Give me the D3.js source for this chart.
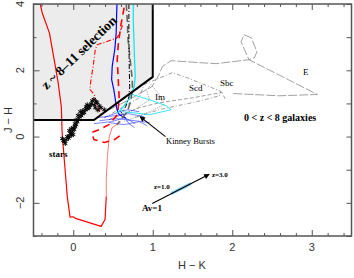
<!DOCTYPE html>
<html><head><meta charset="utf-8">
<script src="https://cdn.jsdelivr.net/npm/d3@7"></script>
<style>body{margin:0;background:#fff}svg{display:block}</style>
</head><body><svg id="chart" width="354" height="278"></svg>
<script>
// H-K vs J-H
var selBox = [[-0.5,4],[1.0,4],[1.0,1.8],[0.26,0.5],[-0.5,0.5]];
var selEdge = [[1.0,4],[1.0,1.8],[0.26,0.5],[-0.5,0.5]];

var redSolid = [[-0.415,4.0],[-0.39,3.73],[-0.30,3.13],[-0.24,2.32],[-0.19,1.63],[-0.15,0.90],[-0.14,0.12],[-0.11,-0.78],[-0.075,-1.81],[-0.04,-2.43],[0.0,-2.42],[0.03,-2.47],[0.35,-2.71],[0.40,-2.50],[0.415,-1.81]];
var redThin = [[0.415,-1.81],[0.415,-1.30],[0.43,-0.60],[0.453,0],[0.49,0.27],[0.60,0.45]];
var redDash = [[0.64,3.89],[0.60,3.37],[0.566,2.77],[0.553,2.32],[0.566,1.72],[0.579,1.11],[0.553,0.66],[0.45,0.36],[0.33,0.21],[0.23,0.12],[0.26,-0.09],[0.39,-0.18],[0.52,-0.09],[0.60,0.05]];
var redDashDot = [[0.62,3.35],[0.553,2.98],[0.415,2.86],[0.30,2.77],[0.277,2.62],[0.25,2.11],[0.223,1.72],[0.21,1.42],[0.264,1.27],[0.30,0.95],[0.36,0.6]];
var blueSolid = [[0.55,4.0],[0.545,3.62],[0.54,3.13],[0.522,2.62],[0.49,2.12],[0.483,1.72],[0.51,1.42],[0.53,1.11],[0.55,0.81],[0.58,0.66],[0.66,0.55]];
var cyanSolid = [[0.755,4.0],[0.755,3.5],[0.763,2.92],[0.771,2.32],[0.78,1.81],[0.767,1.51],[0.738,1.33],[0.68,1.05],[0.60,0.81],[0.55,0.7]];
var cyanLoop = [[0.74,1.27],[0.96,1.11],[1.17,0.93],[1.23,0.81],[0.96,0.66],[0.79,0.71],[0.62,0.75]];
var blackDash = [[0.667,4.0],[0.68,3.5],[0.69,2.9],[0.717,2.3],[0.742,1.72],[0.745,1.42],[0.72,1.05],[0.68,0.75],[0.55,0.36]];
var blackDashDot = [[0.70,4.0],[0.70,3.0],[0.705,2.0],[0.71,1.5],[0.70,1.2],[0.66,0.9],[0.60,0.7]];

var trackE = [[0.33,0.66],[0.70,1.11],[0.99,1.51],[1.08,1.87],[1.12,2.11],[1.23,2.29],[1.59,2.23],[1.80,2.20],[2.21,2.32],[2.11,2.86],[2.15,3.07],[2.24,2.98],[2.31,2.56],[2.28,2.38],[2.21,2.32],[3.07,1.27],[2.59,1.23],[2.00,1.30]];
var trackSbc = [[0.45,0.51],[0.83,0.87],[1.08,1.02],[1.50,1.17],[1.87,1.33],[1.91,1.14]];
var trackScd = [[0.39,0.57],[0.83,1.17],[0.89,1.57],[1.25,1.93],[1.46,1.75],[1.86,1.36],[1.84,1.23],[1.55,1.05],[1.25,0.90],[1.08,0.81],[0.77,0.57]];
var trackIm = [[0.45,0.51],[0.77,0.81],[0.96,1.11],[0.92,1.42],[0.98,1.57],[1.08,1.27],[1.14,0.96],[0.96,0.75],[0.64,0.45]];

var kinney = [
  [[0.30,0.57],[0.52,0.63],[0.70,0.69],[0.89,0.60]],
  [[0.33,0.48],[0.55,0.54],[0.77,0.48],[0.96,0.42]],
  [[0.39,0.57],[0.58,0.75],[0.68,0.81],[0.83,0.75]],
  [[0.45,0.42],[0.64,0.36],[0.83,0.45],[0.93,0.33]],
  [[0.26,0.39],[0.48,0.45],[0.65,0.57],[0.78,0.39]],
  [[0.55,0.87],[0.63,0.66],[0.70,0.39],[0.77,0.27]]
];

var stars = [[-0.113,-0.15],[-0.138,-0.06],[-0.088,-0.09],[-0.10,-0.21],[-0.125,-0.12],[-0.075,0],[-0.05,0],[-0.06,-0.05],[-0.038,0.09],[-0.05,0.18],[0,0.06],[-0.013,0.15],[-0.02,0.04],[-0.025,0.24],[0.013,0.21],[0.0,0.27],[0.025,0.30],[0.038,0.36],[0.02,0.39],[0.05,0.45],[0.035,0.5],[0.063,0.51],[0.075,0.60],[0.06,0.64],[0.088,0.75],[0.10,0.63],[0.113,0.69],[0.12,0.78],[0.138,0.72],[0.15,0.81],[0.176,0.84],[0.16,0.9],[0.20,0.87],[0.176,0.96],[0.21,0.93],[0.226,0.99],[0.264,0.96],[0.239,1.08],[0.289,1.05],[0.26,1.12],[0.30,1.02],[0.327,0.93],[0.277,0.87],[0.35,0.87],[0.39,0.81],[0.31,0.8]];

var avArrow = [[0.994,-2.02],[1.71,-1.14]];
var avBlue = [[1.23,-1.72],[1.48,-1.42]];
var kinneyArrow = [[1.16,0.0],[0.84,0.6]];

var xMajor = [0,1,2,3];
var yMajor = [-2,0,2,4];
var xMinor = [-0.4,-0.2,0.2,0.4,0.6,0.8,1.2,1.4,1.6,1.8,2.2,2.4,2.6,2.8,3.2,3.4];
var yMinor = [-3,-1,1,3];

var svg = d3.select('#chart');
var x = d3.scaleLinear().domain([-0.5,3.5]).range([33.5,351.5]);
var y = d3.scaleLinear().domain([-3,4]).range([236,4]);
var line = d3.line().x(function(d){return x(d[0]);}).y(function(d){return y(d[1]);});

svg.append('defs').append('clipPath').attr('id','clip')
  .append('rect').attr('x',x(-0.5)).attr('y',y(4)).attr('width',x(3.5)-x(-0.5)).attr('height',y(-3)-y(4));
var plot = svg.append('g').attr('clip-path','url(#clip)');

plot.append('path').attr('d',line(selBox)+'Z').attr('fill','#ececec');

function track(data,color,w,dash){
  var p = plot.append('path').attr('d',line(data)).attr('fill','none')
    .attr('stroke',color).attr('stroke-width',w).attr('stroke-linejoin','round');
  if (dash) p.attr('stroke-dasharray',dash);
  return p;
}

track(trackE,'#777',0.7,'9,2');
track(trackSbc,'#777',0.7,'4,2');
track(trackScd,'#777',0.7,'4,2,1,2');
track(trackIm,'#777',0.7,'1.2,1.2');
kinney.forEach(function(k){ track(k,'#2030ff',0.6); });
track(cyanLoop,'#00e0ee',0.8);
track(redThin,'#ff4040',0.7);
track(redSolid,'#ff0000',1.2);
track(redDash,'#ff0000',1.6,'7,5');
track(redDashDot,'#ff0000',1.1,'5,2,1,2');
track(blueSolid,'#0000ff',1.2);
track(cyanSolid,'#00e8f0',1.2);
track(blackDash,'#666',1.6,'7,4');
track(blackDashDot,'#000',1.0,'5,2,1,2');

var star = d3.symbol().type(d3.symbolAsterisk).size(16);
plot.selectAll('.star').data(stars).enter().append('path').attr('class','star')
  .attr('d',star).attr('transform',function(d){return 'translate('+x(d[0])+','+y(d[1])+')';})
  .attr('stroke','#000').attr('stroke-width',1).attr('fill','none');

plot.append('path').attr('d',line(selEdge)).attr('fill','none').attr('stroke','#000').attr('stroke-width',2);

// arrows
var defs = svg.select('defs');
defs.append('marker').attr('id','ah').attr('viewBox','0 0 10 10').attr('refX',9).attr('refY',5)
  .attr('markerWidth',6).attr('markerHeight',5).attr('orient','auto')
  .append('path').attr('d','M0,0L10,5L0,10Z').attr('fill','#000');
svg.append('path').attr('d',line(avBlue)).attr('stroke','#7ccaf2').attr('stroke-width',3).attr('fill','none');
svg.append('path').attr('d',line(avArrow)).attr('stroke','#000').attr('stroke-width',1.1).attr('fill','none').attr('marker-end','url(#ah)');
svg.append('path').attr('d',line(kinneyArrow)).attr('stroke','#000').attr('stroke-width',1.1).attr('fill','none').attr('marker-end','url(#ah)');

// labels
var serif = '"Liberation Serif", "DejaVu Serif", serif';
function label(t,px,py,size,bold,anchor){
  return svg.append('text').attr('x',px).attr('y',py).text(t)
    .attr('font-family',serif).attr('font-size',size)
    .attr('font-weight',bold?'bold':'normal').attr('text-anchor',anchor||'start').attr('fill','#000');
}
label('z ~ 8\u201311 selection',0,0,13.5,true,'middle').attr('transform','translate(82,56) rotate(-44)');
label('Im',155,100,9,false);
label('Scd',189,91,9,false);
label('Sbc',220,86,9,false);
label('E',303,75,9,false);
label('0 < z < 8 galaxies',244,121,10,true);
label('Kinney Bursts',166,144,8.5,false);
label('stars',49,157,9,true);
label('z=1.0',154,189,7,true);
label('z=3.0',212,177,7,true);
label('Av=1',142,211,9,true);

// axes: ticks drawn inward on all four sides
var axisColor = '#555';
function ticks(gen,pos,vals,len){
  var g = svg.append('g').attr('transform',pos).call(gen.tickValues(vals).tickSize(len).tickFormat(''));
  g.select('.domain').remove();
  g.selectAll('line').attr('stroke',axisColor).attr('stroke-width',1);
}
var H = 'translate(0,'+y(-3)+')', T = 'translate(0,'+y(4)+')';
var L = 'translate('+x(-0.5)+',0)', R = 'translate('+x(3.5)+',0)';
ticks(d3.axisBottom(x),H,xMinor,-3); ticks(d3.axisBottom(x),H,xMajor,-6);
ticks(d3.axisTop(x),T,xMinor,-3); ticks(d3.axisTop(x),T,xMajor,-6);
ticks(d3.axisLeft(y),L,yMinor,-3); ticks(d3.axisLeft(y),L,yMajor,-6);
ticks(d3.axisRight(y),R,yMinor,-5); ticks(d3.axisRight(y),R,yMajor,-5);

svg.append('rect').attr('x',x(-0.5)).attr('y',y(4)).attr('width',x(3.5)-x(-0.5)).attr('height',y(-3)-y(4))
  .attr('fill','none').attr('stroke',axisColor).attr('stroke-width',1.5);

var sans = '"Liberation Sans", Arial, sans-serif';
svg.selectAll('.xl').data(xMajor).enter().append('text').attr('class','xl')
  .attr('x',function(d){return x(d);}).attr('y',251).attr('text-anchor','middle')
  .attr('font-family',sans).attr('font-size',11).attr('fill','#333').text(function(d){return d;});
svg.selectAll('.yl').data(yMajor).enter().append('text').attr('class','yl')
  .attr('transform',function(d){return 'translate(24,'+y(d)+') rotate(-90)';}).attr('text-anchor','middle')
  .attr('font-family',sans).attr('font-size',11).attr('fill','#333').text(function(d){return d<0?'\u2212'+(-d):d;});
svg.append('text').attr('x',192).attr('y',269).attr('text-anchor','middle')
  .attr('font-family',sans).attr('font-size',11).attr('fill','#333').text('H \u2212 K');
svg.append('text').attr('transform','translate(12,120) rotate(-90)').attr('text-anchor','middle')
  .attr('font-family',sans).attr('font-size',11).attr('fill','#333').text('J \u2212 H');
</script></body></html>
